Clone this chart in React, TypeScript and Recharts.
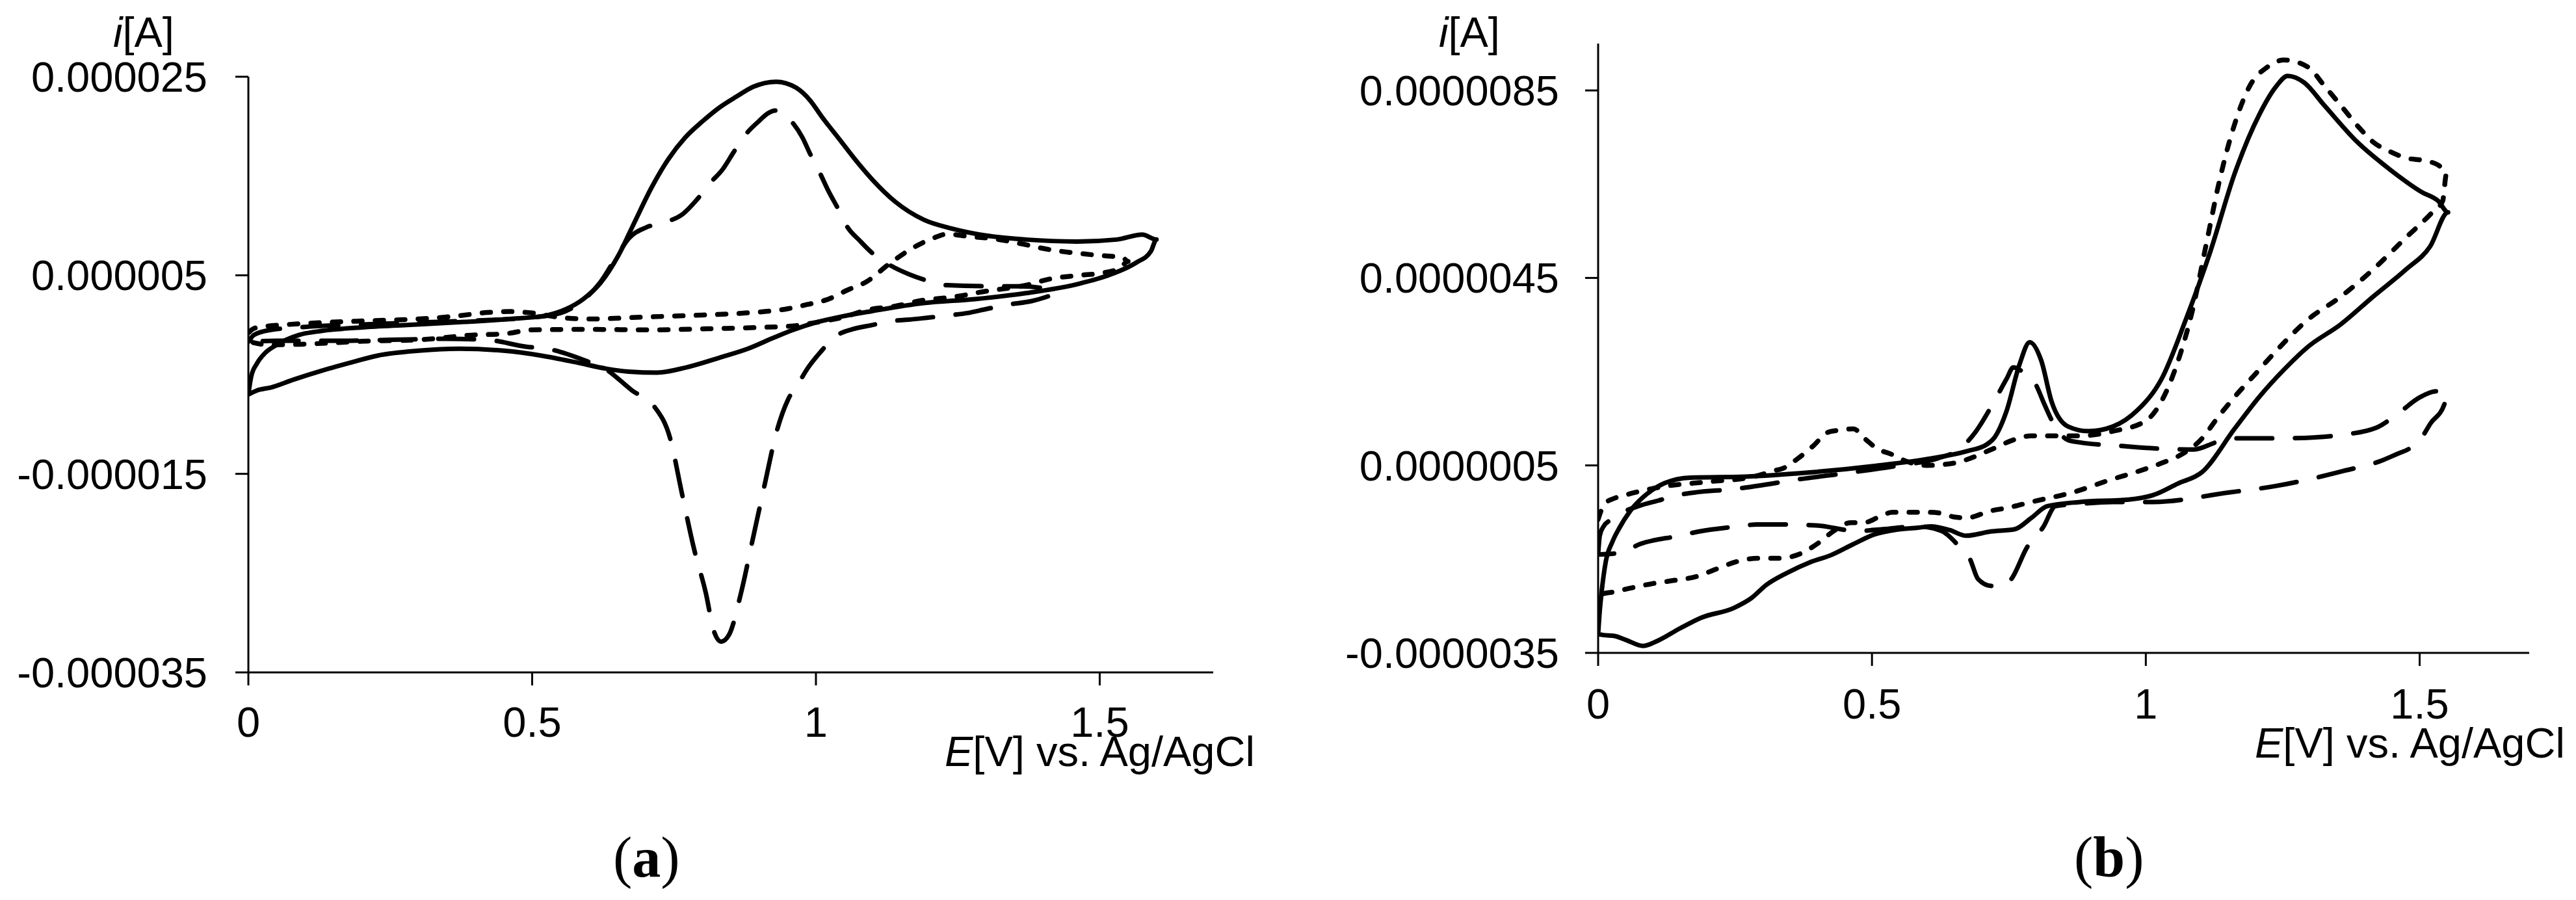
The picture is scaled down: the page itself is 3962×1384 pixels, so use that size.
import { LineChart, Line, XAxis, YAxis } from 'recharts'

// cyclic voltammograms, [E in V, i in µA] in scan order
const A_SOLID: [number, number][] = [
  [0, -7], [0.005, -5.2], [0.015, -3.9], [0.03, -2.8], [0.05, -2], [0.09, -1], [0.13, -0.6], [0.2, -0.25], [0.28, 0],
  [0.38, 0.3], [0.46, 0.6], [0.52, 0.9], [0.56, 1.6], [0.59, 2.6], [0.62, 4.2], [0.652, 7], [0.68, 10.3], [0.71, 13.8],
  [0.74, 16.7], [0.77, 18.9], [0.8, 20.5], [0.83, 21.9], [0.86, 23], [0.89, 24], [0.93, 24.5], [0.965, 23.9], [0.99, 22.6],
  [1.01, 21], [1.04, 18.8], [1.07, 16.6], [1.1, 14.6], [1.14, 12.4], [1.19, 10.6], [1.24, 9.7], [1.3, 9], [1.37, 8.6],
  [1.46, 8.4], [1.53, 8.6], [1.575, 9.1], [1.6, 8.6],
  [1.59, 7.4], [1.565, 6.3], [1.52, 5.1], [1.46, 4.1], [1.37, 3.2], [1.28, 2.6], [1.19, 2.2], [1.1, 1.4], [1.046, 0.85],
  [0.997, 0.2], [0.96, -0.5], [0.925, -1.3], [0.88, -2.4], [0.83, -3.3], [0.77, -4.3], [0.72, -4.8], [0.67, -4.7],
  [0.63, -4.4], [0.58, -3.8], [0.517, -3.1], [0.45, -2.6], [0.372, -2.4], [0.3, -2.6], [0.227, -3.1], [0.18, -3.8],
  [0.13, -4.6], [0.08, -5.5], [0.04, -6.3], [0.015, -6.6], [0, -7],
]
const A_LONG: [number, number][] = [
  [0, -1.7], [0.01, -1], [0.04, -0.5], [0.1, -0.2], [0.2, 0.05], [0.3, 0.25], [0.4, 0.45], [0.5, 0.75], [0.55, 1.2],
  [0.59, 2.5], [0.62, 4.3], [0.65, 7], [0.67, 8.7], [0.7, 9.8], [0.735, 10.35], [0.766, 11.2], [0.79, 12.6], [0.812, 14.2],
  [0.836, 15.7], [0.855, 17.4], [0.875, 19.1], [0.899, 20.5], [0.915, 21.3], [0.928, 21.6], [0.943, 21.3], [0.957, 20.5],
  [0.976, 18.9], [0.99, 17.2], [1.007, 15.3], [1.022, 13.5], [1.04, 11.6], [1.055, 9.9], [1.077, 8.5], [1.1, 7.2],
  [1.128, 6.1], [1.164, 5.1], [1.2, 4.4], [1.231, 4], [1.3, 3.9], [1.36, 3.9], [1.4, 3.7], [1.42, 3.1],
  [1.41, 2.9], [1.38, 2.4], [1.34, 2.06], [1.3, 1.6], [1.267, 1.2], [1.236, 0.97], [1.2, 0.75], [1.164, 0.53], [1.133, 0.4],
  [1.1, 0], [1.063, -0.45], [1.045, -0.8], [1.031, -1.3], [1.01, -2.6], [0.985, -4.4], [0.968, -6], [0.951, -7.5],
  [0.93, -10.9], [0.91, -16], [0.889, -21.5], [0.868, -27], [0.847, -31.2], [0.833, -31.9], [0.82, -30.8], [0.806, -27],
  [0.785, -22.5], [0.764, -17], [0.743, -11.4], [0.715, -8.2], [0.676, -6.6], [0.628, -4.4], [0.594, -3.6], [0.526, -2.4],
  [0.49, -2.2], [0.42, -1.5], [0.35, -1.4], [0.25, -1.5], [0.15, -1.6], [0.05, -1.6], [0, -1.7],
]
const A_SHORT: [number, number][] = [
  [0, -0.8], [0.01, -0.35], [0.03, -0.15], [0.06, 0], [0.1, 0.15], [0.2, 0.4], [0.3, 0.6], [0.36, 0.85], [0.42, 1.25],
  [0.46, 1.35], [0.5, 1.2], [0.55, 0.75], [0.6, 0.6], [0.7, 0.8], [0.8, 1], [0.872, 1.19], [0.949, 1.62], [0.985, 2.06],
  [1.022, 2.6], [1.055, 3.5], [1.089, 4.35], [1.128, 6.1], [1.166, 7.6], [1.205, 8.7], [1.231, 9.15], [1.27, 8.9],
  [1.311, 8.7], [1.36, 8.2], [1.41, 7.6], [1.464, 7.2], [1.5, 7], [1.54, 6.8], [1.55, 6.4],
  [1.535, 5.7], [1.5, 5.2], [1.464, 5], [1.41, 4.6], [1.37, 4], [1.3, 3.4], [1.24, 2.8], [1.19, 2.5], [1.14, 1.9],
  [1.09, 1.5], [1.046, 0.75], [1, 0.25], [0.96, -0.1], [0.9, -0.25], [0.8, -0.4], [0.71, -0.5], [0.6, -0.45], [0.5, -0.5],
  [0.45, -0.9], [0.4, -1], [0.3, -1.5], [0.2, -1.65], [0.15, -1.8], [0.09, -1.95], [0.04, -2], [0.01, -1.8], [0, -1.3],
]

const B_SOLID: [number, number][] = [
  [0, -3.1], [0.003, -2.6], [0.006, -2.24], [0.014, -1.55], [0.026, -1.13], [0.038, -0.85], [0.058, -0.48], [0.089, -0.11],
  [0.121, 0.12], [0.169, 0.24], [0.268, 0.26], [0.386, 0.35], [0.505, 0.49], [0.608, 0.65], [0.672, 0.8], [0.71, 0.95],
  [0.724, 1.1], [0.746, 1.67], [0.769, 2.64], [0.788, 3.13], [0.809, 2.74], [0.828, 1.86], [0.858, 1.33], [0.895, 1.23],
  [0.94, 1.33], [0.984, 1.67], [1.029, 2.35], [1.073, 3.61], [1.118, 5.07], [1.162, 6.72], [1.207, 7.98], [1.237, 8.57],
  [1.259, 8.81], [1.289, 8.67], [1.326, 8.18], [1.386, 7.4], [1.445, 6.82], [1.504, 6.33], [1.534, 6.14], [1.552, 5.9],
  [1.519, 5.17], [1.475, 4.68], [1.415, 4.1], [1.356, 3.51], [1.296, 3.03], [1.252, 2.54], [1.207, 1.96], [1.162, 1.28],
  [1.103, 0.36], [1.058, 0.11], [1.014, -0.13], [0.969, -0.23], [0.88, -0.28], [0.82, -0.37], [0.791, -0.62],
  [0.761, -0.86], [0.717, -0.91], [0.672, -1], [0.642, -0.88], [0.608, -0.8], [0.584, -0.83], [0.545, -0.87],
  [0.505, -0.97], [0.466, -1.18], [0.426, -1.41], [0.386, -1.57], [0.347, -1.78], [0.307, -2.05], [0.28, -2.33],
  [0.248, -2.54], [0.188, -2.75], [0.149, -2.98], [0.109, -3.24], [0.082, -3.35], [0.05, -3.22], [0.03, -3.14],
  [0.01, -3.12], [0, -3.1],
]
const B_LONG: [number, number][] = [
  [0, -1.4], [0.003, -1], [0.01, -0.8], [0.025, -0.65], [0.045, -0.5], [0.076, -0.36], [0.11, -0.25], [0.143, -0.14],
  [0.175, -0.08], [0.252, 0], [0.3, 0.08], [0.358, 0.19], [0.45, 0.33], [0.55, 0.5], [0.62, 0.65], [0.66, 0.85],
  [0.687, 1.18], [0.72, 1.8], [0.746, 2.35], [0.758, 2.59], [0.776, 2.49], [0.798, 2.25], [0.815, 1.8], [0.828, 1.47],
  [0.858, 1.04], [0.88, 0.99], [0.95, 0.92], [1.02, 0.86], [1.088, 0.84], [1.13, 1], [1.16, 1.08], [1.25, 1.08],
  [1.31, 1.1], [1.356, 1.15], [1.42, 1.3], [1.46, 1.6], [1.5, 1.95], [1.53, 2.08], [1.55, 2.05],
  [1.545, 1.8], [1.52, 1.4], [1.504, 1.1], [1.48, 0.85], [1.46, 0.75], [1.43, 0.6], [1.36, 0.38], [1.281, 0.16],
  [1.237, 0.06], [1.15, -0.08], [1.014, -0.28], [0.94, -0.28], [0.88, -0.32], [0.835, -0.37], [0.813, -0.81],
  [0.783, -1.25], [0.754, -1.93], [0.735, -2.07], [0.718, -2.07], [0.694, -1.93], [0.679, -1.5], [0.657, -1.2],
  [0.627, -0.9], [0.583, -0.8], [0.52, -0.86], [0.473, -0.9], [0.398, -0.78], [0.33, -0.76], [0.29, -0.76],
  [0.256, -0.8], [0.18, -0.92], [0.149, -1], [0.076, -1.18], [0.042, -1.36], [0, -1.4],
]
const B_SHORT: [number, number][] = [
  [0, -0.65], [0.006, -0.45], [0.014, -0.3], [0.03, -0.2], [0.05, -0.13], [0.081, -0.04], [0.12, 0.05], [0.2, 0.15],
  [0.28, 0.25], [0.319, 0.38], [0.34, 0.45], [0.365, 0.65], [0.394, 0.93], [0.418, 1.2], [0.44, 1.25], [0.466, 1.28],
  [0.489, 1.05], [0.509, 0.86], [0.535, 0.74], [0.56, 0.6], [0.6, 0.5], [0.65, 0.55], [0.672, 0.62], [0.72, 0.85],
  [0.76, 1.05], [0.79, 1.13], [0.88, 1.13], [0.94, 1.23], [1, 1.45], [1.03, 1.9], [1.058, 2.7], [1.085, 3.8], [1.11, 5.2],
  [1.135, 6.6], [1.16, 7.7], [1.19, 8.6], [1.222, 9], [1.252, 9.15], [1.296, 9], [1.326, 8.6], [1.356, 8.18], [1.39, 7.7],
  [1.415, 7.4], [1.445, 7.2], [1.475, 7.06], [1.51, 7], [1.535, 6.9], [1.549, 6.72],
  [1.542, 6.14], [1.519, 5.85], [1.475, 5.36], [1.415, 4.68], [1.356, 4.1], [1.296, 3.61], [1.237, 2.93], [1.2, 2.45],
  [1.162, 1.96], [1.13, 1.5], [1.103, 1.08], [1.06, 0.7], [1.029, 0.55], [0.98, 0.35], [0.94, 0.21], [0.865, -0.08],
  [0.791, -0.28], [0.75, -0.4], [0.717, -0.47], [0.672, -0.62], [0.65, -0.6], [0.627, -0.52], [0.6, -0.5], [0.565, -0.5],
  [0.537, -0.5], [0.513, -0.6], [0.485, -0.72], [0.462, -0.72], [0.43, -0.9], [0.404, -1.14], [0.37, -1.38],
  [0.331, -1.48], [0.291, -1.48], [0.254, -1.55], [0.216, -1.71], [0.18, -1.87], [0.141, -1.95], [0.1, -2.02],
  [0.062, -2.11], [0.028, -2.2], [0.006, -2.25], [0, -2.3],
]

const E_TICKS = [0, 0.5, 1, 1.5]
const A_I_TICKS = [-35, -15, 5, 25]
const B_I_TICKS = [-3.5, 0.5, 4.5, 8.5]

const SANS = '"Liberation Sans", Arial, sans-serif'
const SERIF = '"Liberation Serif", "Times New Roman", serif'
const AX = { stroke: '#000', strokeWidth: 3 }
const TICK = { fill: '#000', fontSize: 65, fontFamily: SANS }

const pts = (a: [number, number][]) => a.map(([E, i]) => ({ E, i }))

const STYLES = [
  { key: 'solid', width: 7, dash: undefined },
  { key: 'long', width: 7, dash: '55 35' },
  { key: 'short', width: 7.5, dash: '13 20' },
]

function Panel({ series, ticks, top, digits, left, margin, tickGap, xGap }: any) {
  return (
    <div style={{ position: 'absolute', left, top: 0 }}>
      <LineChart width={1981} height={1384} margin={margin}>
        <XAxis type="number" dataKey="E" domain={[0, 1.7]} ticks={E_TICKS} allowDataOverflow
          axisLine={AX} tickLine={AX} tickSize={20} tickMargin={xGap} tick={TICK} height={100} />
        <YAxis type="number" dataKey="i" domain={[ticks[0], top]} ticks={ticks} allowDataOverflow
          tickFormatter={(v: number) => (v / 1e6).toFixed(digits)}
          axisLine={AX} tickLine={AX} tickSize={20} tickMargin={tickGap} tick={TICK} width={300} />
        {series.map((s: [number, number][], k: number) => (
          <Line key={STYLES[k].key} data={pts(s)} dataKey="i" type="monotone" dot={false} activeDot={false}
            stroke="#000" strokeWidth={STYLES[k].width} strokeDasharray={STYLES[k].dash} strokeLinecap="round"
            strokeLinejoin="round" isAnimationActive={false} />
        ))}
      </LineChart>
    </div>
  )
}

export default function App() {
  return (
    <div style={{ position: 'absolute', left: 0, top: 0, width: 3962, height: 1384, background: '#fff' }}>
      <Panel series={[A_SOLID, A_LONG, A_SHORT]} ticks={A_I_TICKS} top={25} digits={6} left={0}
        margin={{ top: 118, right: 115, bottom: 250, left: 82 }} tickGap={43} xGap={33} />
      <Panel series={[B_SOLID, B_LONG, B_SHORT]} ticks={B_I_TICKS} top={9.5} digits={7} left={1981}
        margin={{ top: 67, right: 72, bottom: 280, left: 177 }} tickGap={40} xGap={35} />
      <svg width={3962} height={1384} style={{ position: 'absolute', left: 0, top: 0, pointerEvents: 'none' }}>
        <g fontFamily={SANS} fontSize={65} fill="#000">
          <text x={174} y={72}><tspan fontStyle="italic">i</tspan>[A]</text>
          <text x={2213} y={72}><tspan fontStyle="italic">i</tspan>[A]</text>
          <text x={1453} y={1178}><tspan fontStyle="italic">E</tspan>[V] vs. Ag/AgCl</text>
          <text x={3468} y={1165}><tspan fontStyle="italic">E</tspan>[V] vs. Ag/AgCl</text>
        </g>
        <g fontFamily={SERIF} fontSize={88} fill="#000">
          <text x={943} y={1348}>(<tspan fontWeight="bold">a</tspan>)</text>
          <text x={3190} y={1348}>(<tspan fontWeight="bold">b</tspan>)</text>
        </g>
      </svg>
    </div>
  )
}
